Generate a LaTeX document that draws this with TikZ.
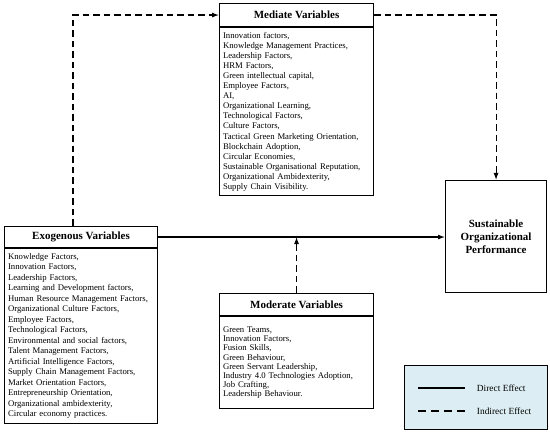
\documentclass[tikz,border=0pt]{standalone}
\usepackage{fontspec}
\setmainfont{Liberation Serif}
\usetikzlibrary{arrows.meta,calc}

\definecolor{legendfill}{RGB}{220,238,243}

\tikzset{
  boxline/.style={line width=1.1pt},
  headbox/.style={draw, boxline, anchor=north west, inner sep=0pt, font=\fontsize{11}{13}\selectfont\bfseries},
  listbox/.style={draw, boxline, anchor=north west, align=left, inner xsep=3.5pt, inner ysep=0pt},
  direct/.style={line width=1.1pt, -{Latex[length=7pt,width=5pt]}},
  indirect/.style={direct, dash pattern=on 6.5pt off 4pt},
}

\begin{document}
\begin{tikzpicture}[x=1pt,y=1pt,yscale=-1,xscale=1]
\useasboundingbox (0,0) rectangle (550,435);
%Shape: Rectangle [Mediate]
\node [headbox, minimum width=154pt, minimum height=23pt] (medhead) at (219,3) {Mediate Variables};
\node [listbox, text width=147pt, minimum height=168pt, font=\fontsize{8.7}{10.1}\selectfont] (medbody) at (medhead.south west) {Innovation factors,\\Knowledge Management Practices,\\Leadership Factors,\\HRM Factors,\\Green intellectual capital,\\Employee Factors,\\AI,\\Organizational Learning,\\Technological Factors,\\Culture Factors,\\Tactical Green Marketing Orientation,\\Blockchain Adoption,\\Circular Economies,\\Sustainable Organisational Reputation,\\Organizational Ambidexterity,\\Supply Chain Visibility.};
%Shape: Rectangle [Exogenous]
\node [headbox, minimum width=153pt, minimum height=21pt] (exohead) at (4,226) {Exogenous Variables};
\node [listbox, text width=146pt, minimum height=175pt, font=\fontsize{8.7}{10.5}\selectfont] (exobody) at (exohead.south west) {Knowledge Factors,\\Innovation Factors,\\Leadership Factors,\\Learning and Development factors,\\Human Resource Management Factors,\\Organizational Culture Factors,\\Employee Factors,\\Technological Factors,\\Environmental and social factors,\\Talent Management Factors,\\Artificial Intelligence Factors,\\Supply Chain Management Factors,\\Market Orientation Factors,\\Entrepreneurship Orientation,\\Organizational ambidexterity,\\Circular economy practices.};
%Shape: Rectangle [Moderate]
\node [headbox, minimum width=154pt, minimum height=22pt] (modhead) at (219,293) {Moderate Variables};
\node [listbox, text width=147pt, minimum height=92pt, font=\fontsize{8.7}{9.1}\selectfont] (modbody) at (modhead.south west) {Green Teams,\\Innovation Factors,\\Fusion Skills,\\Green Behaviour,\\Green Servant Leadership,\\Industry 4.0 Technologies Adoption,\\Job Crafting,\\Leadership Behaviour.};
%Shape: Rectangle [Outcome]
\node [headbox, minimum width=101pt, minimum height=112pt, align=center, font=\fontsize{11}{13.3}\selectfont\bfseries] (sop) at (445,180) {Sustainable\\Organizational\\Performance};
%Shape: Rectangle [Legend]
\node [draw, line width=0.9pt, fill=legendfill, anchor=north west, minimum width=143pt, minimum height=64pt] (legend) at (404,365) {};
% Text Node
\node [anchor=west, inner sep=0.75pt, font=\fontsize{9.4}{11}\selectfont] (directlbl) at (476,388) {Direct Effect};
% Text Node
\node [anchor=west, inner sep=0.75pt, font=\fontsize{9.4}{11}\selectfont] (indirectlbl) at (476,411) {Indirect Effect};
%Straight Lines
\draw [line width=1.1pt] ($(directlbl.west)+(-58,0)$) -- ($(directlbl.west)+(-11,0)$);
\draw [line width=1.1pt, dash pattern=on 8pt off 5pt] ($(indirectlbl.west)+(-58,0)$) -- ($(indirectlbl.west)+(-11,0)$);
%Connectors
\coordinate (exotop) at ($(exohead.north west)+(69,0)$);
\draw [direct] (exohead.east) -- (exohead.east -| sop.west);
\draw [indirect] (exotop) |- (medhead.west);
\draw [indirect] (medhead.east) -| (sop.north);
\draw [indirect] (modhead.north) -- (modhead.north |- exohead.east);
\end{tikzpicture}
\end{document}
